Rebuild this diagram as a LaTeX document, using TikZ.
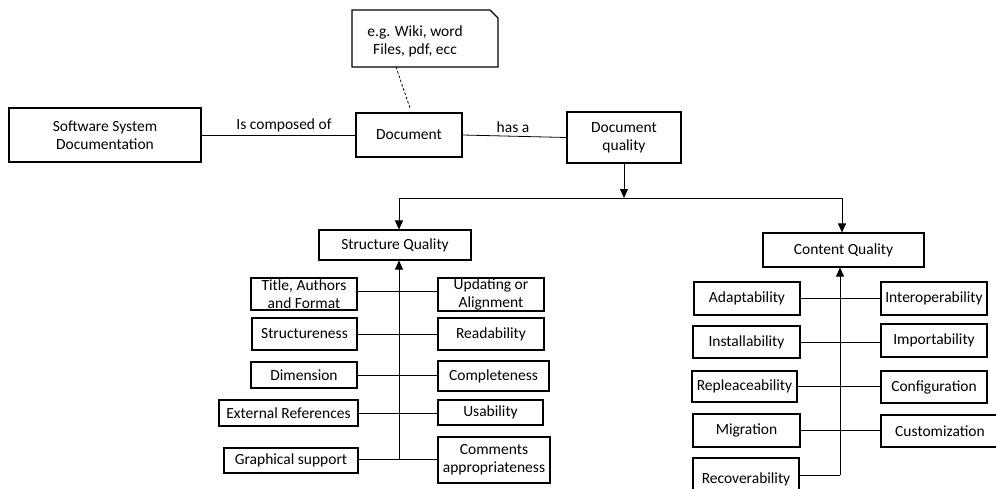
\documentclass[tikz,border=0pt]{standalone}
\usepackage{fontspec}
\setmainfont{Carlito}
\usetikzlibrary{arrows.meta,calc}
\begin{document}
\begin{tikzpicture}[x=1pt,y=-1pt,
  box/.style={draw, line width=1.1pt, align=center, inner sep=0pt,
    font=\fontsize{15.5}{18}\selectfont},
  conn/.style={line width=0.8pt},
  arr/.style={line width=0.8pt, -{Triangle[length=9pt,width=8pt]}},
  lbl/.style={font=\fontsize{15.5}{18}\selectfont, inner sep=0pt}]
\useasboundingbox (0,0) rectangle (996,488);
\clip (0,0) rectangle (996,488);
% top row
\node[box, minimum width=192, minimum height=54] (ssd) at (105,135) {Software System\\Documentation};
\node[box, minimum width=106, minimum height=44] (doc) at (409,135) {Document};
\node[box, minimum width=114, minimum height=51] (dq) at (624,137.5) {Document\\quality};
\node[lbl, align=center] (note) at (415,41) {e.g. Wiki, word\\Files, pdf, ecc};
\draw[line width=1.1pt] (352,10) -- (490,10) -- (498,18) -- (498,67) -- (352,67) -- cycle;
\coordinate (nb) at (396,67);
\draw[conn, dash pattern=on 2.5pt off 2pt] (nb) -- ($(doc.north west)+(55,-3)$);
\draw[conn] (ssd.east) -- (doc.west);
\node[lbl] (l1) at (284,125) {Is composed of};
\draw[conn] (doc.east) -- (dq.west);
\node[lbl] (l2) at (513,127) {has a};
% level 2
\node[box, minimum width=152, minimum height=30] (sq) at (395,245) {Structure Quality};
\node[box, minimum width=161, minimum height=34] (cq) at (843.5,250) {Content Quality};
\coordinate (j) at (624,198);
\coordinate (sqin) at (399,198);
\coordinate (cqin) at (842,198);
\draw[arr] (dq.south) -- (j);
\draw[conn] (sqin) -- (cqin);
\draw[arr] (sqin) -- (sqin |- sq.north);
\draw[arr] (cqin) -- (cqin |- cq.north);
% structure children
\node[box, minimum width=106, minimum height=32] (tit) at (304,294) {Title, Authors\\and Format};
\node[box, minimum width=106, minimum height=33] (upd) at (491,294.5) {Updating or\\Alignment};
\node[box, minimum width=105, minimum height=32] (str) at (304.5,334) {Structureness};
\node[box, minimum width=106, minimum height=32] (rea) at (491,334) {Readability};
\node[box, minimum width=106, minimum height=26] (dim) at (304,375) {Dimension};
\node[box, minimum width=111, minimum height=30] (com) at (493.5,376) {Completeness};
\node[box, minimum width=139, minimum height=26] (ext) at (288.5,413) {External References};
\node[box, minimum width=105, minimum height=25] (usa) at (490.5,412.5) {Usability};
\node[box, minimum width=134, minimum height=25] (gra) at (291,460.5) {Graphical support};
\node[box, minimum width=112, minimum height=46] (cap) at (494,460) {Comments\\appropriateness};
\coordinate (sb) at (399,459);
\draw[conn] (tit.east |- 0,291) -- (upd.west |- 0,291);
\draw[conn] (str.east) -- (str.east -| rea.west);
\draw[conn] (dim.east) -- (dim.east -| com.west);
\draw[conn] (ext.east) -- (ext.east -| usa.west);
\draw[conn] (gra.east |- sb) -- (cap.west |- sb);
\draw[arr] (sb) -- (sb |- sq.south);
% content children
\node[box, minimum width=106, minimum height=33] (ada) at (747,298.5) {Adaptability};
\node[box, minimum width=106, minimum height=33] (int) at (934,298.5) {Interoperability};
\node[box, minimum width=107, minimum height=32] (ins) at (746.5,342) {Installability};
\node[box, minimum width=106, minimum height=33] (imp) at (934,340.5) {Importability};
\node[box, minimum width=105, minimum height=31] (rep) at (744.5,386.5) {Repleaceability};
\node[box, minimum width=106, minimum height=32] (cfg) at (934,387) {Configuration};
\node[box, minimum width=107, minimum height=33] (mig) at (746.5,430.5) {Migration};
\node[box, minimum width=118, minimum height=32, text depth=-3pt] (cus) at (940,431) {Customization};
\node[box, minimum width=106, minimum height=40, text depth=-3pt] (rec) at (746,478) {Recoverability};
\coordinate (cb) at (840,475);
\draw[conn] (ada.east) -- (ada.east -| int.west);
\draw[conn] (ins.east) -- (ins.east -| imp.west);
\draw[conn] (rep.east) -- (rep.east -| cfg.west);
\draw[conn] (mig.east) -- (mig.east -| cus.west);
\draw[conn] (rec.east |- cb) -- (cb);
\draw[arr] (cb) -- (cb |- cq.south);
\end{tikzpicture}
\end{document}
